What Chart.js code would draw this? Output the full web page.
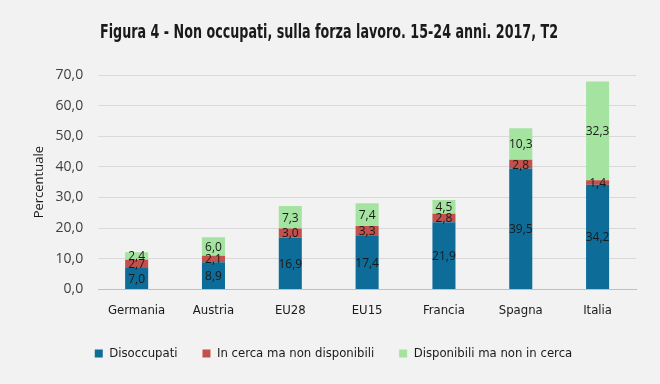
<!DOCTYPE html>
<html><head><meta charset="utf-8">
<script src="https://cdn.jsdelivr.net/npm/chart.js@4/dist/chart.umd.min.js"></script>
<style>html,body{margin:0;padding:0;background:#f2f2f2;}#wrap{width:660px;height:384px;}</style>
</head><body><div id="wrap"><canvas id="c" width="660" height="384"></canvas></div>
<script>
const categories = ["Germania","Austria","EU28","EU15","Francia","Spagna","Italia"];
const disoccupati = [7.0, 8.9, 16.9, 17.4, 21.9, 39.5, 34.2];
const inCerca = [2.7, 2.1, 3.0, 3.3, 2.8, 2.8, 1.4];
const disponibili = [2.4, 6.0, 7.3, 7.4, 4.5, 10.3, 32.3];
const seriesNames = ["Disoccupati","In cerca ma non disponibili","Disponibili ma non in cerca"];
const titleText = "Figura 4 - Non occupati, sulla forza lavoro. 15-24 anni. 2017, T2";
const yTitle = "Percentuale";

const fmt = v => v.toFixed(1).replace('.', ',');
const condensed = "'DejaVu Sans Condensed','Liberation Sans Narrow',sans-serif";

const labelPlugin = {
  id: 'segLabels',
  afterDatasetsDraw(chart) {
    const ctx = chart.ctx;
    ctx.save();
    ctx.font = "12px 'Open Sans', sans-serif";
    ctx.fillStyle = '#1a1a1a';
    ctx.textAlign = 'center';
    ctx.textBaseline = 'middle';
    chart.data.datasets.forEach((ds, i) => {
      const meta = chart.getDatasetMeta(i);
      meta.data.forEach((bar, j) => {
        const p = bar.getProps(['x','y','base'], true);
        ctx.fillText(fmt(ds.data[j]), p.x, (p.y + p.base) / 2 + 1);
      });
    });
    ctx.restore();
  }
};
const bgTitlePlugin = {
  id: 'bgTitle',
  beforeDraw(chart) {
    const ctx = chart.ctx;
    ctx.save();
    ctx.fillStyle = '#f2f2f2';
    ctx.fillRect(0, 0, chart.width, chart.height);
    ctx.restore();
  },
  afterDraw(chart) {
    const ctx = chart.ctx;
    ctx.save();
    ctx.font = "bold 20px 'DejaVu Sans Condensed', sans-serif";
    ctx.fillStyle = '#1a1a1a';
    ctx.textAlign = 'center';
    ctx.textBaseline = 'middle';
    const w = ctx.measureText(titleText).width;
    const s = 458 / w;
    ctx.translate(329, 33);
    ctx.scale(s, 1);
    ctx.fillText(titleText, 0, 0);
    ctx.restore();
  }
};

new Chart(document.getElementById('c'), {
  type: 'bar',
  data: {
    labels: categories,
    datasets: [
      { label: seriesNames[0], data: disoccupati, backgroundColor: '#0e6c98' },
      { label: seriesNames[1], data: inCerca, backgroundColor: '#c4504c' },
      { label: seriesNames[2], data: disponibili, backgroundColor: '#a4e4a0' }
    ]
  },
  options: {
    responsive: false,
    animation: false,
    devicePixelRatio: 1,
    layout: { padding: { left: 31, right: 24, top: 75, bottom: 14 } },
    datasets: { bar: { categoryPercentage: 1.0, barPercentage: 0.3 } },
    plugins: {
      title: { display: false },
      legend: {
        position: 'bottom',
        labels: {
          boxWidth: 8, boxHeight: 8, color: '#1a1a1a', padding: 25,
          font: { family: condensed, size: 13 }
        }
      },
      tooltip: { enabled: false }
    },
    scales: {
      x: {
        stacked: true,
        grid: { display: false },
        border: { display: true, color: '#bfbfbf' },
        ticks: { color: '#1a1a1a', font: { family: condensed, size: 13 }, padding: 5 },
        afterFit: s => { s.height -= 1; s._computeLabelArea = () => undefined; }
      },
      y: {
        stacked: true, min: 0, max: 70,
        ticks: { stepSize: 10, color: '#404040', font: { family: "'Open Sans', sans-serif", size: 14 }, padding: 15, callback: v => fmt(v) },
        grid: { color: '#d9d9d9', drawTicks: false },
        border: { display: false },
        title: { display: true, text: yTitle, color: '#1a1a1a', font: { family: "'Open Sans', sans-serif", size: 13 }, padding: { top: 0, bottom: 0 } },
        afterFit: s => { s.width -= 6; }
      }
    }
  },
  plugins: [bgTitlePlugin, labelPlugin]
});
</script></body></html>
